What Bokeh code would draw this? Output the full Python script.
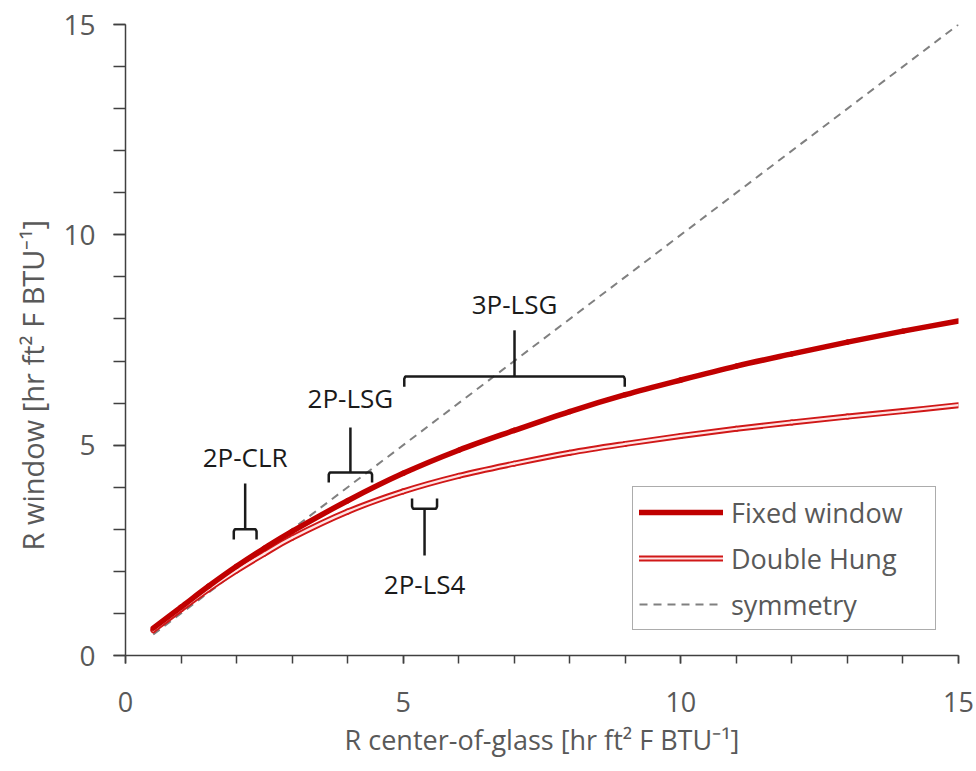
import numpy as np
from bokeh.plotting import figure
from bokeh.models import Legend, LegendItem, Label, FixedTicker
from bokeh.embed import file_html
from bokeh.resources import INLINE

# Centre-of-glass R value vs whole-window R value [hr ft2 F BTU-1]
r_cog = [0.5, 1.0, 1.5, 2.0, 2.5, 3.0, 4.0, 5.0, 6.0, 7.0, 8.0, 9.0, 10.0, 11.0, 12.0, 13.0, 14.0, 15.0]
r_fixed = [0.65, 1.15, 1.65, 2.12, 2.55, 2.95, 3.68, 4.33, 4.88, 5.35, 5.80, 6.20, 6.55, 6.88, 7.17, 7.45, 7.71, 7.95]
r_double_hung = [0.60, 1.10, 1.58, 2.02, 2.42, 2.80, 3.42, 3.90, 4.27, 4.56, 4.82, 5.03, 5.22, 5.39, 5.54, 5.68, 5.81, 5.95]
symmetry = [0.5, 15.0]

# Glazing groups: label and the span of centre-of-glass R they cover
glazing_names = ["2P-CLR", "2P-LSG", "3P-LSG", "2P-LS4"]
glazing_lo = [1.95, 3.66, 5.02, 5.16]
glazing_hi = [2.36, 4.44, 8.99, 5.61]

x_ticks = [0, 5, 10, 15]
y_ticks = [0, 5, 10, 15]

FONT = "Open Sans"
GREY = "#595959"
RED = "#C00000"
DH_RED = "#D01818"
DH_CORE = "#FFE4E4"


def smooth_segments(x, y):
    """Catmull-Rom spline through the points, as cubic Bezier segments."""
    n = len(x)
    seg = dict(x0=[], y0=[], x1=[], y1=[], cx0=[], cy0=[], cx1=[], cy1=[])
    for i in range(n - 1):
        xm, ym = (x[i - 1], y[i - 1]) if i > 0 else (x[i], y[i])
        xp, yp = (x[i + 2], y[i + 2]) if i + 2 < n else (x[i + 1], y[i + 1])
        seg["x0"].append(x[i]); seg["y0"].append(y[i])
        seg["x1"].append(x[i + 1]); seg["y1"].append(y[i + 1])
        seg["cx0"].append(x[i] + (x[i + 1] - xm) / 6)
        seg["cy0"].append(y[i] + (y[i + 1] - ym) / 6)
        seg["cx1"].append(x[i + 1] - (xp - x[i]) / 6)
        seg["cy1"].append(y[i + 1] - (yp - y[i]) / 6)
    return seg


p = figure(width=976, height=771, x_range=(0, 15), y_range=(0, 15),
           output_backend="svg", toolbar_location=None,
           min_border_left=125, min_border_right=18,
           min_border_top=24, min_border_bottom=116)
p.outline_line_color = None
p.xgrid.visible = False
p.ygrid.visible = False

for ax, ticks in ((p.xaxis[0], x_ticks), (p.yaxis[0], y_ticks)):
    ax.ticker = FixedTicker(ticks=ticks, minor_ticks=list(range(0, 16)))
    ax.axis_line_color = "#404040"
    ax.axis_line_width = 1.5
    ax.major_tick_line_color = "#404040"
    ax.minor_tick_line_color = "#404040"
    ax.major_tick_line_width = 1.5
    ax.minor_tick_line_width = 1.5
    ax.major_tick_in = 0
    ax.minor_tick_in = 0
    ax.major_label_text_font = FONT
    ax.major_label_text_color = GREY
    ax.axis_label_text_font = FONT
    ax.axis_label_text_font_style = "normal"
    ax.axis_label_text_color = GREY

p.xaxis.major_label_text_font_size = "27px"
p.xaxis.major_tick_out = 8
p.xaxis.minor_tick_out = 8
p.xaxis.major_label_standoff = 28
p.xaxis.axis_label = "R center-of-glass [hr ft\u00b2 F BTU\u207b\u00b9]"
p.xaxis.axis_label_text_font_size = "27px"
p.xaxis.axis_label_standoff = 6

p.yaxis.major_label_text_font_size = "28px"
p.yaxis.major_tick_out = 12
p.yaxis.minor_tick_out = 12
p.yaxis.major_label_standoff = 18
# trailing no-break spaces push the title a little below the axis centre
p.yaxis.axis_label = "R window [hr ft\u00b2 F BTU\u207b\u00b9]" + "\u00a0" * 12
p.yaxis.axis_label_text_font_size = "29px"
p.yaxis.axis_label_standoff = 8

# curves
sym = p.line(symmetry, symmetry, line_color="#808080", line_width=2, line_dash="8 6")
dh = smooth_segments(r_cog, r_double_hung)
fx = smooth_segments(r_cog, r_fixed)
p.bezier(line_color=DH_RED, line_width=6, line_cap="round", **dh)
p.bezier(line_color=DH_CORE, line_width=2.2, line_cap="round", **dh)
p.bezier(line_color=RED, line_width=5.5, line_cap="round", **fx)

# legend samples (a single undefined point, so nothing shows in the plot area)
nan = np.array([np.nan])
leg_fixed = p.line(nan, nan, line_color=RED, line_width=5.5, line_cap="round")
leg_dh_outer = p.line(nan, nan, line_color=DH_RED, line_width=6, line_cap="round")
leg_dh_inner = p.line(nan, nan, line_color=DH_CORE, line_width=2.2, line_cap="round")

# glazing brackets
bracket_y = [3.00, 4.35, 6.63, 3.49]     # level of the bracket bar
bracket_dir = [-1, -1, -1, 1]            # direction of the bracket feet
stem_end = [4.09, 5.42, 7.73, 2.38]
label_y = [4.71, 6.13, 8.36, 1.69]
foot = 0.24
xs, ys = [], []
for lo, hi, yb, d, ys_end in zip(glazing_lo, glazing_hi, bracket_y, bracket_dir, stem_end):
    r = 0.06
    bx = [lo, lo, lo + r * 0.3, lo + r, hi - r, hi - r * 0.3, hi, hi]
    by = [yb + d * foot, yb + d * 0.05, yb, yb, yb, yb, yb + d * 0.05, yb + d * foot]
    xs.append(bx)
    ys.append(by)
    mid = (lo + hi) / 2
    xs.append([mid, mid])
    ys.append([yb, ys_end])
p.multi_line(xs, ys, line_color="#1a1a1a", line_width=2.5)

for name, lo, hi, ly in zip(glazing_names, glazing_lo, glazing_hi, label_y):
    p.add_layout(Label(x=(lo + hi) / 2, y=ly, text=name, text_align="center",
                       text_baseline="middle", text_font=FONT, text_font_size="26px",
                       text_color="#1a1a1a"))

legend = Legend(items=[
    LegendItem(label="Fixed window", renderers=[leg_fixed]),
    LegendItem(label="Double Hung", renderers=[leg_dh_outer, leg_dh_inner]),
    LegendItem(label="symmetry", renderers=[sym]),
], location=(507, 25))
legend.margin = 0
legend.padding = 6
legend.spacing = 8
legend.glyph_width = 84
legend.glyph_height = 38
legend.label_height = 38
legend.label_width = 198
legend.label_standoff = 8
legend.label_text_font = FONT
legend.label_text_font_size = "27px"
legend.label_text_color = GREY
legend.border_line_color = GREY
legend.border_line_width = 1.5
legend.background_fill_alpha = 1
p.add_layout(legend)

open("out.html", "w").write(file_html(p, INLINE))
